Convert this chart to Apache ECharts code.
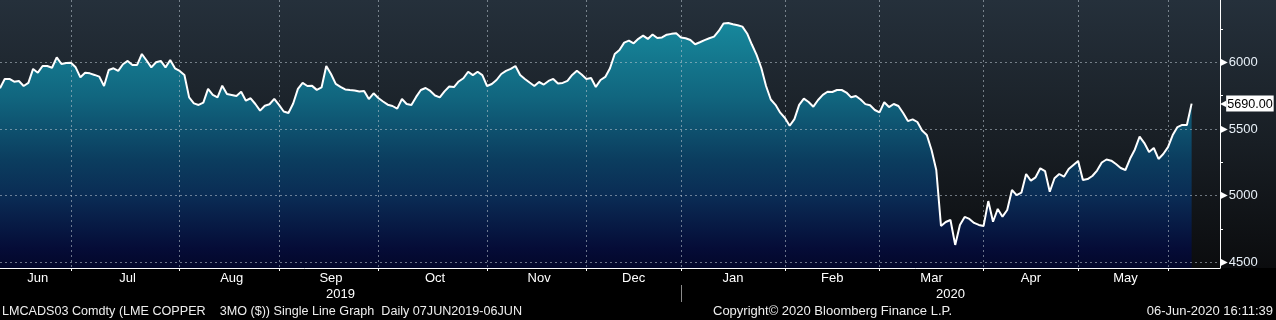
<!DOCTYPE html>
<html>
<head>
<meta charset="utf-8">
<style>
  html, body { margin: 0; padding: 0; background: #000; }
  #chart { width: 1276px; height: 320px; }
</style>
<script src="https://cdn.jsdelivr.net/npm/echarts@6/dist/echarts.min.js"></script>
</head>
<body>
<div id="chart"></div>
<script>
// LME Copper 3M daily closes (one value per LME trading day)
const jun19 = [5805, 5875, 5875, 5854, 5859, 5822, 5845, 5950, 5922, 5972, 5972, 5959, 6037, 5987, 5995, 5997];
const jul19 = [5962, 5887, 5922, 5917, 5905, 5892, 5822, 5942, 5955, 5935, 5985, 6010, 5980, 5980, 6062, 6013, 5962, 6000, 6010, 5962, 6017, 5955, 5935];
const aug19 = [5905, 5737, 5692, 5680, 5697, 5800, 5755, 5737, 5824, 5762, 5755, 5747, 5779, 5712, 5730, 5687, 5637, 5674, 5685, 5725, 5680];
const sep19 = [5631, 5620, 5691, 5800, 5845, 5822, 5823, 5793, 5811, 5972, 5912, 5838, 5816, 5796, 5792, 5789, 5781, 5785, 5724, 5767, 5732];
const oct19 = [5706, 5682, 5672, 5652, 5724, 5687, 5680, 5740, 5792, 5807, 5785, 5751, 5737, 5782, 5818, 5814, 5856, 5880, 5929, 5904, 5929, 5904, 5822];
const nov19 = [5837, 5867, 5912, 5935, 5950, 5972, 5905, 5875, 5848, 5822, 5852, 5833, 5860, 5875, 5841, 5845, 5860, 5905, 5937, 5908, 5875];
const dec19 = [5882, 5815, 5867, 5890, 5955, 6062, 6092, 6147, 6162, 6142, 6176, 6200, 6175, 6208, 6182, 6186, 6207, 6213, 6217, 6186];
const jan20 = [6180, 6167, 6135, 6150, 6166, 6180, 6192, 6235, 6291, 6295, 6285, 6278, 6267, 6216, 6133, 6055, 5957, 5822, 5721, 5681, 5622, 5582];
const feb20 = [5524, 5574, 5680, 5727, 5702, 5667, 5717, 5755, 5779, 5777, 5792, 5792, 5773, 5737, 5747, 5721, 5686, 5677, 5642, 5624];
const mar20 = [5700, 5664, 5687, 5672, 5619, 5559, 5572, 5552, 5488, 5454, 5342, 5192, 4772, 4802, 4817, 4630, 4780, 4840, 4825, 4795, 4780, 4772];
const apr20 = [4959, 4804, 4900, 4842, 4892, 5042, 5004, 5022, 5162, 5112, 5137, 5205, 5184, 5029, 5130, 5162, 5142, 5200, 5230, 5260];
const may20 = [5117, 5124, 5147, 5188, 5248, 5271, 5262, 5237, 5207, 5192, 5278, 5346, 5442, 5394, 5327, 5357, 5275, 5312, 5364];
const jun20 = [5454, 5514, 5530, 5530, 5690];

const lmeHolidays = ['2019-08-26', '2019-12-25', '2019-12-26', '2020-01-01', '2020-04-10', '2020-04-13', '2020-05-08', '2020-05-25'];
const axisStart = '2019-06-07';
const axisEnd = '2020-06-15';
const yTicks = [4500, 5000, 5500, 6000];
const yMinorTicks = [4750, 5250, 5750, 6250];
const monthNames = ['Jan', 'Feb', 'Mar', 'Apr', 'May', 'Jun', 'Jul', 'Aug', 'Sep', 'Oct', 'Nov', 'Dec'];

function tradingDays(from, to, skip) {
  const out = [];
  const d = new Date(from + 'T00:00:00Z');
  const end = new Date(to + 'T00:00:00Z');
  while (d <= end) {
    const s = d.toISOString().slice(0, 10);
    const wd = d.getUTCDay();
    if (wd !== 0 && wd !== 6 && skip.indexOf(s) < 0) out.push(s);
    d.setUTCDate(d.getUTCDate() + 1);
  }
  return out;
}

const dates = tradingDays(axisStart, axisEnd, lmeHolidays);
const closes = [].concat(jun19, jul19, aug19, sep19, oct19, nov19, dec19, jan20, feb20, mar20, apr20, may20, jun20);
const nData = closes.length;
const seriesData = dates.map((d, i) => i < nData ? closes[i] : null);
const lastValue = closes[nData - 1];

const monthOf = s => +s.slice(5, 7) - 1;
// month boundaries: last trading day of each month inside the data
const boundaries = [];
for (let i = 0; i < nData - 1; i++) {
  if (monthOf(dates[i]) !== monthOf(dates[i + 1])) boundaries.push(i);
}
const boundarySet = new Set(boundaries);
const segs = [0].concat(boundaries);
const labelSet = new Set();
for (let k = 0; k < segs.length - 1; k++) labelSet.add(Math.round((segs[k] + segs[k + 1]) / 2));

const yearBoundary = boundaries.find(i => dates[i].slice(5, 7) === '12');
const yearLabelSet = new Set([Math.round(yearBoundary / 2), Math.round((yearBoundary + dates.length - 1) / 2)]);

const FONT = 'Liberation Sans, Arial, sans-serif';
const gridLine = { show: true, lineStyle: { color: 'rgba(190,200,210,0.55)', type: [2, 3], width: 1 } };
const footStyle = (size) => ({ color: '#eeeeee', fontSize: size, fontWeight: 'normal', fontFamily: FONT });

const chart = echarts.init(document.getElementById('chart'), null, { renderer: 'canvas' });
chart.setOption({
  animation: false,
  backgroundColor: {
    type: 'linear', x: 0, y: 0, x2: 0, y2: 1,
    colorStops: [
      { offset: 0, color: '#25303b' },
      { offset: 0.45, color: '#181e24' },
      { offset: 0.836, color: '#0b0c0e' },
      { offset: 0.838, color: '#000000' },
      { offset: 1, color: '#000000' }
    ]
  },
  textStyle: { fontFamily: FONT },
  title: [
    { text: 'LMCADS03 Comdty (LME COPPER    3MO ($)) Single Line Graph  Daily 07JUN2019-06JUN',
      left: 2, top: 305, padding: 0, textStyle: footStyle(12.6) },
    { text: 'Copyright\u00A9 2020 Bloomberg Finance L.P.', left: 713, top: 305, padding: 0, textStyle: footStyle(13) },
    { text: '06-Jun-2020 16:11:39', right: 3, top: 305, padding: 0, textStyle: footStyle(13) }
  ],
  grid: { left: 0, right: 56, top: 0, bottom: 52, containLabel: false, outerBoundsMode: 'none' },
  xAxis: [
    {
      type: 'category', data: dates, boundaryGap: false, z: 2,
      axisLine: { show: true, lineStyle: { color: '#ffffff', width: 1 } },
      axisTick: { show: true, length: 3, interval: (i) => boundarySet.has(i), lineStyle: { color: '#ffffff' } },
      splitLine: Object.assign({ interval: (i) => boundarySet.has(i) }, gridLine),
      axisLabel: { show: true, interval: (i) => labelSet.has(i), margin: 4, color: '#ffffff', fontSize: 13, fontFamily: FONT,
        formatter: (v) => monthNames[monthOf(v)] }
    },
    {
      type: 'category', data: dates, boundaryGap: false, position: 'bottom', offset: 17, z: 2,
      axisLine: { show: false },
      axisTick: { show: true, length: 17, interval: (i) => i === yearBoundary, lineStyle: { color: '#8a8a8a' } },
      splitLine: { show: false },
      axisLabel: { show: true, interval: (i) => yearLabelSet.has(i), margin: 3, color: '#ffffff', fontSize: 13, fontFamily: FONT,
        formatter: (v) => v.slice(0, 4) }
    }
  ],
  yAxis: [
    {
      type: 'value', position: 'right', min: 4457, max: 6467, z: 2,
      axisLine: { show: true, lineStyle: { color: '#ffffff', width: 1 } },
      axisTick: { show: false, customValues: yTicks },
      splitLine: gridLine,
      axisLabel: {
        show: true, customValues: yTicks, margin: 0,
        formatter: (v) => '{t|\u25B6}{v|' + v + '}',
        rich: {
          t: { fontSize: 10, color: '#ffffff', fontFamily: 'DejaVu Sans', padding: [0, 1, 0, 0] },
          v: { fontSize: 13, color: '#e8f0f8', fontFamily: FONT }
        }
      }
    },
    {
      type: 'value', position: 'right', min: 4457, max: 6467, z: 2,
      axisLine: { show: false },
      axisTick: { show: true, length: 3, customValues: yMinorTicks, lineStyle: { color: '#ffffff' } },
      splitLine: { show: false },
      axisLabel: { show: false }
    },
    {
      type: 'value', position: 'right', min: 4457, max: 6467, z: 4,
      axisLine: { show: false },
      axisTick: { show: false, customValues: [lastValue] },
      splitLine: { show: false },
      axisLabel: {
        show: true, customValues: [lastValue], margin: 0,
        formatter: (v) => '{a|\u25C0}{b|' + v.toFixed(2) + '}',
        rich: {
          a: { fontSize: 8, color: '#ffffff', fontFamily: 'DejaVu Sans', padding: [0, 0, 0, 0] },
          b: { fontSize: 12.6, color: '#000000', fontFamily: FONT, backgroundColor: '#ffffff', padding: [2, 1, 1, 1] }
        }
      }
    }
  ],
  series: [
    {
      type: 'line', data: seriesData, xAxisIndex: 0, yAxisIndex: 0, z: 1,
      showSymbol: false, symbol: 'none',
      lineStyle: { width: 0, opacity: 0 },
      areaStyle: {
        opacity: 1,
        color: {
          type: 'linear', x: 0, y: 0, x2: 0, y2: 1,
          colorStops: [
            { offset: 0, color: '#17889c' },
            { offset: 0.3, color: '#11667f' },
            { offset: 0.56, color: '#0b3d5f' },
            { offset: 0.72, color: '#0a2a53' },
            { offset: 0.92, color: '#050c37' },
            { offset: 1, color: '#03072a' }
          ]
        }
      }
    },
    {
      type: 'line', data: seriesData, xAxisIndex: 0, yAxisIndex: 0, z: 3,
      showSymbol: false, symbol: 'none',
      lineStyle: { color: '#ffffff', width: 2 }
    }
  ]
});
</script>
</body>
</html>
